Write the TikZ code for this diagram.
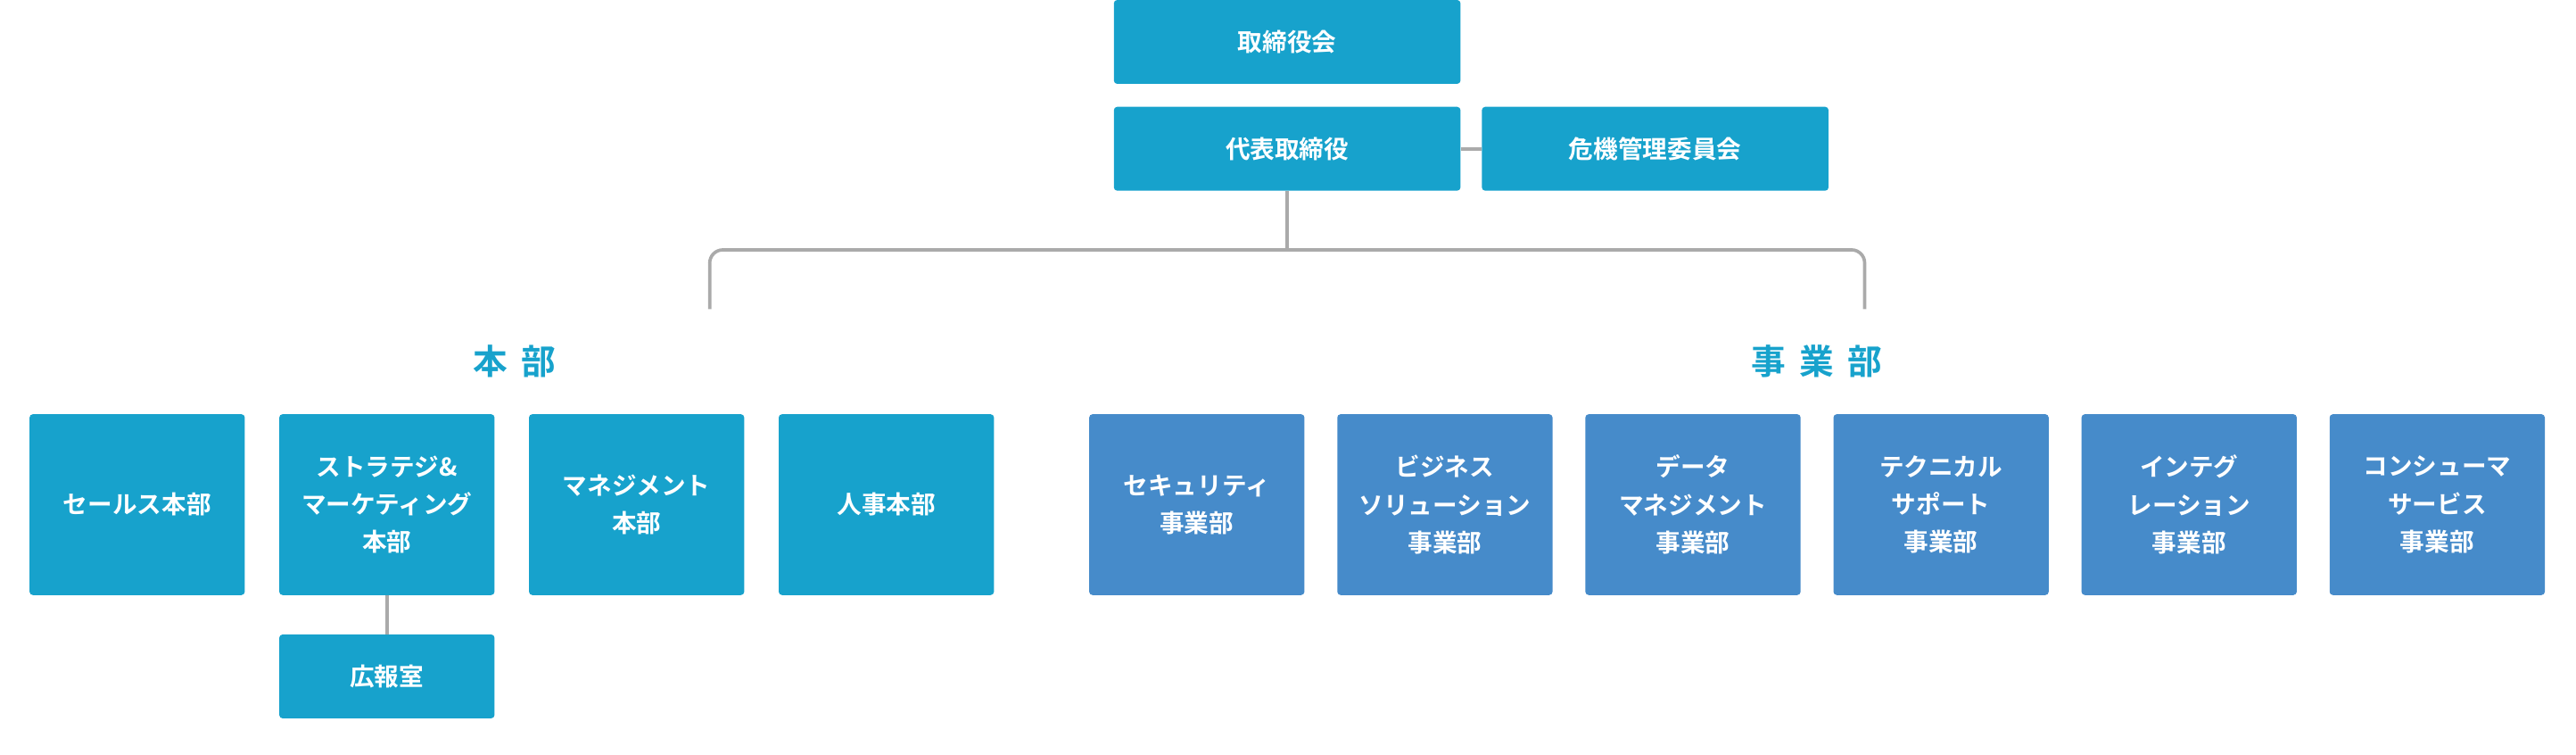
\documentclass[tikz,border=0pt]{standalone}
\usepackage{fontspec}
\setmainfont{Noto Sans CJK JP}[BoldFont={* Bold}]
\usetikzlibrary{positioning}

\definecolor{hqblue}{HTML}{17A2CC}
\definecolor{bublue}{HTML}{468BCA}
\definecolor{linegray}{HTML}{AAAAAA}

\begin{document}
\begin{tikzpicture}[
    x=1pt, y=-1pt,
    box/.style={rectangle, rounded corners=2pt, text=white, align=center,
                font=\fontsize{15}{23}\selectfont\bfseries, inner sep=0pt},
    top/.style={box, fill=hqblue, minimum width=211pt, minimum height=51pt},
    hq/.style={box, fill=hqblue, minimum width=131pt, minimum height=110pt},
    bu/.style={box, fill=bublue, minimum width=131pt, minimum height=110pt},
    small/.style={box, fill=hqblue, minimum width=131pt, minimum height=51pt},
    group/.style={text=hqblue, font=\fontsize{21}{24}\selectfont\bfseries},
    link/.style={draw=linegray, line width=2pt}
]
    \useasboundingbox (0,0) rectangle (1568,459);

    % Top
    \node[top] (board) at (783.5, 25.5) {取締役会};
    \node[top] (ceo) at (783.5, 90.5) {代表取締役};
    \node[top] (risk) at (1007.5, 90.5) {危機管理委員会};

    % Groups
    \node[group] (hqlabel) at (313, 220) {本\hspace{0.4em}部};
    \node[group] (bulabel) at (1106, 220) {事\hspace{0.4em}業\hspace{0.4em}部};

    % Headquarters
    \node[hq] (sales) at (83.5, 307) {セールス本部};
    \node[hq] (strategy) at (235.5, 307) {ストラテジ\&\\マーケティング\\本部};
    \node[hq] (mgmt) at (387.5, 307) {マネジメント\\本部};
    \node[hq] (hr) at (539.5, 307) {人事本部};
    \node[small] (pr) at (235.5, 411.5) {広報室};

    % Business units
    \node[bu] (security) at (728.5, 307) {セキュリティ\\事業部};
    \node[bu] (business) at (879.5, 307) {ビジネス\\ソリューション\\事業部};
    \node[bu] (data) at (1030.5, 307) {データ\\マネジメント\\事業部};
    \node[bu] (tech) at (1181.5, 307) {テクニカル\\サポート\\事業部};
    \node[bu] (integ) at (1332.5, 307) {インテグ\\レーション\\事業部};
    \node[bu] (consumer) at (1483.5, 307) {コンシューマ\\サービス\\事業部};

    % Connectors
    \coordinate (split) at (783.5, 152);
    \coordinate (hqend) at (432, 188);
    \coordinate (buend) at (1135, 188);
    \draw[link] (ceo) -- (risk);
    \draw[link] (ceo) -- (split);
    \draw[link, rounded corners=8pt] (hqend) |- (split) -| (buend);
    \draw[link] (strategy) -- (pr);
\end{tikzpicture}
\end{document}
